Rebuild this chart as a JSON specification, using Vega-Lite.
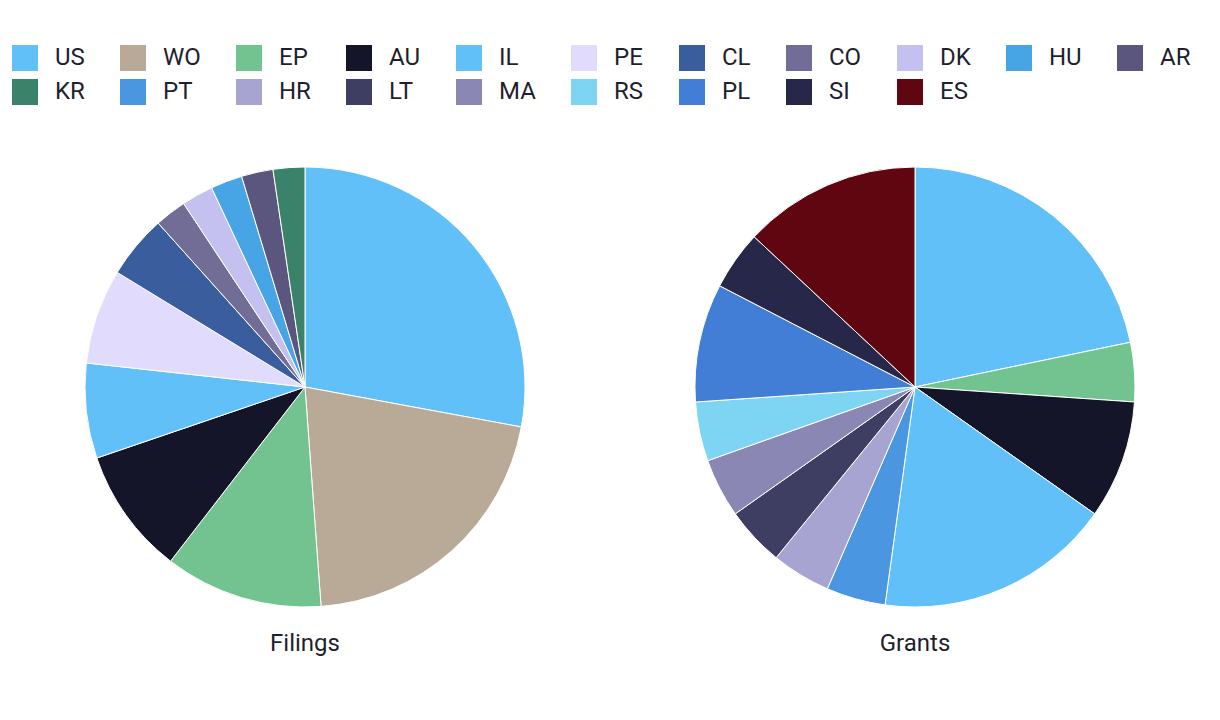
{
  "$schema": "https://vega.github.io/schema/vega-lite/v6.json",
  "background": "white",
  "padding": {"left": 12, "top": 45, "right": 5, "bottom": 5},
  "config": {
    "view": {"stroke": null},
    "font": "Roboto",
    "legend": {"padding": 0}
  },
  "data": {
    "values": [
      {"chart": "Filings", "code": "US", "i": 1, "count": 12},
      {"chart": "Filings", "code": "WO", "i": 2, "count": 9},
      {"chart": "Filings", "code": "EP", "i": 3, "count": 5},
      {"chart": "Filings", "code": "AU", "i": 4, "count": 4},
      {"chart": "Filings", "code": "IL", "i": 5, "count": 3},
      {"chart": "Filings", "code": "PE", "i": 6, "count": 3},
      {"chart": "Filings", "code": "CL", "i": 7, "count": 2},
      {"chart": "Filings", "code": "CO", "i": 8, "count": 1},
      {"chart": "Filings", "code": "DK", "i": 9, "count": 1},
      {"chart": "Filings", "code": "HU", "i": 10, "count": 1},
      {"chart": "Filings", "code": "AR", "i": 11, "count": 1},
      {"chart": "Filings", "code": "KR", "i": 12, "count": 1},
      {"chart": "Grants", "code": "US", "i": 1, "count": 5},
      {"chart": "Grants", "code": "EP", "i": 3, "count": 1},
      {"chart": "Grants", "code": "AU", "i": 4, "count": 2},
      {"chart": "Grants", "code": "IL", "i": 5, "count": 4},
      {"chart": "Grants", "code": "PT", "i": 13, "count": 1},
      {"chart": "Grants", "code": "HR", "i": 14, "count": 1},
      {"chart": "Grants", "code": "LT", "i": 15, "count": 1},
      {"chart": "Grants", "code": "MA", "i": 16, "count": 1},
      {"chart": "Grants", "code": "RS", "i": 17, "count": 1},
      {"chart": "Grants", "code": "PL", "i": 18, "count": 2},
      {"chart": "Grants", "code": "SI", "i": 19, "count": 1},
      {"chart": "Grants", "code": "ES", "i": 20, "count": 3}
    ]
  },
  "facet": {
    "column": {
      "field": "chart",
      "type": "nominal",
      "sort": ["Filings", "Grants"],
      "title": null,
      "header": {
        "labelOrient": "bottom",
        "labelFontSize": 24,
        "labelColor": "#1f1f2e",
        "labelPadding": 23,
        "labelFont": "Roboto"
      }
    }
  },
  "spacing": 166,
  "spec": {
    "width": 440,
    "height": 440,
    "mark": {"type": "arc", "stroke": "white", "strokeWidth": 1},
    "encoding": {
      "theta": {"field": "count", "type": "quantitative", "stack": true},
      "order": {"field": "i", "type": "quantitative"},
      "color": {
        "field": "code",
        "type": "nominal",
        "scale": {
          "domain": ["US", "WO", "EP", "AU", "IL", "PE", "CL", "CO", "DK", "HU", "AR", "KR", "PT", "HR", "LT", "MA", "RS", "PL", "SI", "ES"],
          "range": ["#62C0F9", "#B8AA96", "#73C391", "#15152A", "#62C0F9", "#E1DCFD", "#3A5D9D", "#716D97", "#C4C1F0", "#47A5E5", "#5A567D", "#3A826A", "#4A96E0", "#A8A4D2", "#3E3D62", "#8B87B4", "#7ED4F3", "#427DD6", "#27274A", "#600610"]
        },
        "legend": {
          "title": null,
          "orient": "none",
          "legendX": -73,
          "legendY": -122,
          "direction": "horizontal",
          "columns": 11,
          "symbolType": "square",
          "symbolSize": 676,
          "symbolStrokeWidth": 0,
          "symbolOpacity": 1,
          "labelFontSize": 24,
          "labelFont": "Roboto",
          "labelColor": "#1f1f2e",
          "labelOffset": 17,
          "columnPadding": 35,
          "rowPadding": 8,
          "gridAlign": "each"
        }
      }
    }
  }
}
